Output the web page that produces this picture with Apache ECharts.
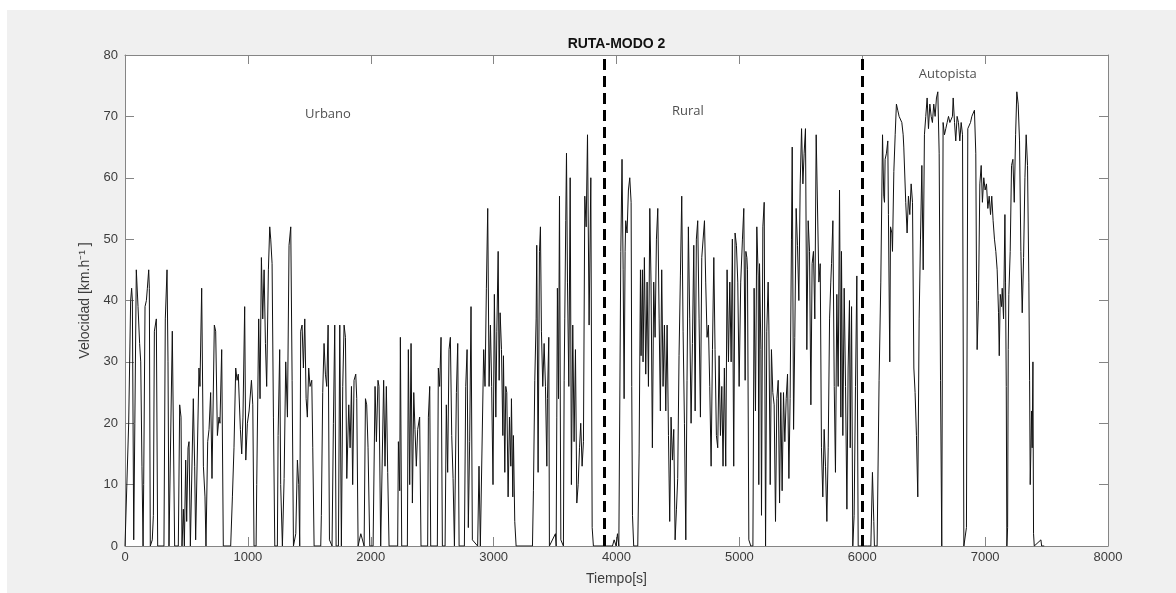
<!DOCTYPE html>
<html>
<head>
<meta charset="utf-8">
<script src="https://cdn.jsdelivr.net/npm/echarts@6/dist/echarts.min.js"></script>
<style>
  html, body { margin: 0; padding: 0; background: #ffffff; }
  #fondo { position: absolute; left: 7px; top: 10px; width: 1169px; height: 583px; background: #f0f0f0; }
  #chart { position: absolute; left: 0; top: 0; width: 1176px; height: 593px; }
</style>
</head>
<body>
<div id="fondo"></div>
<div id="chart"></div>
<script>
// tramo urbano: [tiempo s, velocidad km/h]
const urbano = [
  [0,0],[11,0],[30,20],[46,40],[54,42],[60,40],[71,1],[80,20],[92,45],[106,39],[119,33],[128,30],[138,13],[147,0],
  [152,10],[163,39],[174,40],[182,42],[193,45],[198,42],[206,0],[222,1],[231,5],[239,35],[255,37],[266,0],[317,0],
  [328,37],[342,45],[350,30],[358,0],[372,0],[385,35],[393,35],[404,0],[434,0],[445,23],[456,21],[464,0],[475,6],
  [483,0],[494,14],[502,4],[513,16],[521,17],[532,0],[545,0],[556,24],[567,13],[575,1],[591,1],[602,29],[610,26],
  [624,42],[638,13],[651,8],[659,0],[673,17],[684,19],[697,25],[708,11],[727,36],[738,35],[752,18],[765,21],[773,20],
  [787,32],[800,0],[860,0],[874,8],[887,16],[901,29],[912,27],[922,28],[939,19],[950,15],[960,21],[974,39],[983,14],
  [996,20],[1010,22],[1029,27],[1040,23],[1050,0],[1067,0],[1072,10],[1088,37],[1099,24],[1110,47],[1121,37],
  [1132,45],[1143,33],[1153,26],[1167,45],[1178,52],[1186,50],[1197,46],[1208,21],[1219,0],[1240,0],[1246,18],
  [1259,32],[1267,10],[1281,0],[1295,11],[1308,30],[1322,21],[1335,49],[1349,52],[1360,27],[1371,0],[1390,2],
  [1403,14],[1414,10],[1422,0],[1430,35],[1441,36],[1452,29],[1463,37],[1474,24],[1484,21],[1495,29],[1506,26],
  [1520,27],[1528,16],[1539,0],[1593,0],[1598,5],[1609,25],[1620,33],[1631,28],[1642,26],[1653,36],[1664,1],
  [1685,0],[1696,20],[1707,36],[1718,0],[1737,0],[1748,36],[1761,0],[1772,26],[1783,36],[1794,34],[1805,11],
  [1821,23],[1832,16],[1843,26],[1853,10],[1864,27],[1878,28],[1886,24],[1897,0],[1919,2],[1946,0],[1957,24],
  [1967,23],[1978,16],[1992,0],[2019,0],[2035,26],[2046,17],[2059,27],[2067,26],[2081,0],[2095,0],[2105,27],
  [2116,13],[2127,26],[2138,12],[2149,0],[2219,0],[2225,17],[2236,9],[2241,34],[2252,0],[2298,0],[2306,32],
  [2317,10],[2328,33],[2339,7],[2350,25],[2360,19],[2371,13],[2382,19],[2398,21],[2409,0],[2463,0],[2469,21],
  [2480,26],[2488,0],[2542,0],[2550,29],[2561,26],[2572,34],[2583,0],[2605,0],[2615,23],[2626,12],[2637,32],
  [2648,34],[2659,18],[2670,11],[2681,0],[2697,25],[2708,33],[2719,0],[2762,0],[2773,26],[2784,32],[2794,3],
  [2805,17],[2816,39],[2827,1],[2870,0],[2881,13],[2892,0],[2908,0],[2919,32],[2930,26],[2941,42],[2952,55],
  [2963,26],[2974,36],[2984,26],[2995,10],[3006,41],[3018,21],[3026,35],[3037,48],[3045,27],[3053,38],[3064,32],
  [3075,18],[3080,31],[3091,12],[3099,26],[3107,25],[3118,8],[3129,21],[3140,13],[3145,24],[3156,8],[3161,18],
  [3172,4],[3183,0],[3316,0],[3324,9],[3335,27],[3346,37],[3351,49],[3362,12],[3373,48],[3381,52],[3389,35],
  [3400,26],[3411,33],[3422,26],[3433,13],[3438,24],[3449,34],[3454,0],[3503,2],[3509,0],[3514,21],[3519,42],
  [3528,24],[3536,57],[3547,1],[3568,0],[3574,27],[3579,37],[3587,53],[3593,64],[3601,43],[3612,26],[3623,60],
  [3633,10],[3644,36],[3655,17],[3666,32],[3677,7],[3688,10],[3699,16],[3709,20],[3720,13],[3731,17],[3742,57],
  [3753,52],[3764,67],[3777,36],[3791,60],[3802,3],[3812,0],[3900,0]
];

// tramo rural
const rural = [
  [3967,0],[3981,1],[3997,0],[4008,2],[4019,0],[4035,48],[4045,63],[4054,45],[4062,24],[4070,48],[4075,53],
  [4086,51],[4097,58],[4108,60],[4119,56],[4124,26],[4130,5],[4140,0],[4173,0],[4184,15],[4195,45],[4200,31],
  [4211,45],[4216,30],[4227,47],[4238,28],[4249,43],[4260,26],[4271,55],[4281,43],[4292,16],[4303,43],[4314,34],
  [4325,50],[4336,55],[4347,37],[4357,22],[4368,45],[4379,26],[4390,36],[4401,22],[4412,36],[4423,18],[4433,4],
  [4444,21],[4455,14],[4466,19],[4477,1],[4488,6],[4498,11],[4509,31],[4520,44],[4531,57],[4542,35],[4553,20],
  [4564,1],[4574,27],[4585,52],[4596,37],[4607,20],[4618,33],[4629,49],[4640,22],[4650,50],[4661,53],[4672,37],
  [4683,21],[4694,47],[4705,47],[4716,53],[4726,43],[4737,34],[4748,36],[4759,26],[4770,13],[4781,32],[4792,47],
  [4802,32],[4813,18],[4824,16],[4835,31],[4846,18],[4857,26],[4867,13],[4878,29],[4889,13],[4900,45],[4911,30],
  [4922,43],[4933,30],[4943,50],[4954,13],[4965,51],[4976,49],[4987,43],[4998,26],[5011,43],[5025,50],[5036,55],
  [5047,27],[5053,48],[5061,47],[5066,45],[5077,1],[5093,0],[5110,0],[5120,42],[5131,22],[5142,52],[5153,44],
  [5158,10],[5164,46],[5175,32],[5180,5],[5191,52],[5202,56],[5213,0],[5223,35],[5234,43],[5240,36],[5251,10],
  [5261,32],[5272,25],[5283,23],[5294,4],[5305,24],[5316,27],[5327,7],[5337,25],[5348,9],[5359,25],[5370,17],
  [5381,24],[5392,28],[5403,11],[5413,24],[5424,50],[5430,65],[5441,19],[5451,34],[5462,55],[5473,49],[5484,40],
  [5495,59],[5506,68],[5517,59],[5527,64],[5538,68],[5549,32],[5560,53],[5571,48],[5582,23],[5592,46],[5603,48],
  [5614,37],[5625,67],[5636,67],[5647,43],[5658,46],[5668,16],[5679,8],[5690,19],[5701,13],[5712,4],[5723,16],
  [5734,37],[5744,43],[5750,46],[5761,53],[5772,26],[5782,12],[5793,41],[5804,26],[5815,58],[5826,21],[5831,48],
  [5842,18],[5853,42],[5864,26],[5875,6],[5885,29],[5896,40],[5902,16],[5913,39],[5923,0],[5934,5],[5945,26],
  [5956,44],[5967,0],[6000,0]
];

// tramo autopista
const autopista = [
  [6043,0],[6070,0],[6083,12],[6094,4],[6099,0],[6121,0],[6137,27],[6151,43],[6165,67],[6175,57],[6181,56],
  [6186,63],[6197,64],[6208,66],[6213,54],[6224,30],[6230,52],[6241,51],[6246,48],[6257,61],[6268,67],[6278,72],
  [6289,71],[6300,70],[6311,70],[6322,69],[6333,67],[6338,65],[6349,65],[6354,56],[6365,51],[6376,57],[6387,54],
  [6398,59],[6409,56],[6420,29],[6430,25],[6441,18],[6452,8],[6463,37],[6474,50],[6485,62],[6496,45],[6506,67],
  [6517,70],[6528,73],[6539,68],[6550,72],[6561,70],[6571,69],[6582,72],[6593,70],[6604,73],[6615,74],[6626,64],
  [6637,27],[6647,0],[6658,69],[6669,67],[6680,68],[6691,69],[6702,70],[6713,69],[6723,69],[6734,70],[6740,73],
  [6751,69],[6761,66],[6772,70],[6783,69],[6794,66],[6805,69],[6816,67],[6827,0],[6843,0],[6848,3],[6859,68],
  [6870,68],[6881,69],[6892,70],[6902,70],[6913,71],[6924,64],[6930,43],[6935,32],[6946,40],[6957,59],[6968,62],
  [6978,56],[6989,60],[7000,58],[7011,59],[7022,55],[7033,57],[7044,54],[7054,57],[7065,53],[7076,50],[7087,48],
  [7098,45],[7109,38],[7115,31],[7123,41],[7134,39],[7139,42],[7150,37],[7161,54],[7166,43],[7172,26],[7177,0],
  [7183,3],[7188,32],[7193,41],[7204,48],[7215,62],[7226,63],[7237,56],[7248,67],[7258,74],[7269,72],[7280,66],
  [7291,48],[7302,38],[7313,47],[7324,60],[7334,67],[7345,62],[7356,43],[7362,27],[7367,10],[7378,22],[7383,16],
  [7389,30],[7394,2],[7400,0],[7454,1],[7460,0],[7481,0]
];

const limites = [3900, 6000];
const zonas = ['Urbano', 'Rural', 'Autopista'];
const zonaT = [1652, 4581, 6696];
const zonaV = [70.4, 70.9, 76.9];

const ejeColor = '#858585';
const txtColor = '#3c3c3c';
const fuente = '"Liberation Sans", Arial, sans-serif';

const chart = echarts.init(document.getElementById('chart'));

function ejeBase(min, max, step) {
  return {
    type: 'value', min: min, max: max, interval: step,
    axisLine: { show: true, onZero: false, lineStyle: { color: ejeColor } },
    axisTick: { show: true, inside: true, length: 9, lineStyle: { color: ejeColor } },
    splitLine: { show: false }
  };
}

const option = {
  animation: false,
  title: {
    text: 'RUTA-MODO 2',
    left: 616.5,
    top: 37,
    textAlign: 'center',
    padding: 0,
    textStyle: { fontFamily: fuente, fontSize: 14, fontWeight: 'bold', color: '#111' }
  },
  grid: { left: 125, right: 68, top: 55, bottom: 47, show: true, backgroundColor: '#ffffff', borderWidth: 0 },
  xAxis: [
    Object.assign(ejeBase(0, 8000, 1000), {
      position: 'bottom',
      name: 'Tiempo[s]', nameLocation: 'middle', nameGap: 26,
      nameTextStyle: { fontFamily: fuente, fontSize: 14, color: txtColor },
      axisLabel: { fontFamily: fuente, fontSize: 13, color: txtColor, margin: 5,
        formatter: function (v) { return String(v); } }
    }),
    Object.assign(ejeBase(0, 8000, 1000), { position: 'top', axisLabel: { show: false } })
  ],
  yAxis: [
    Object.assign(ejeBase(0, 80, 10), {
      position: 'left',
      name: 'Velocidad [km.h\u207B\u00B9 ]', nameLocation: 'middle', nameGap: 17,
      nameTextStyle: { fontFamily: fuente, fontSize: 14, color: txtColor },
      axisLabel: { fontFamily: fuente, fontSize: 13, color: txtColor, margin: 7 }
    }),
    Object.assign(ejeBase(0, 80, 10), { position: 'right', axisLabel: { show: false } })
  ],
  series: [
    {
      type: 'line',
      data: urbano.concat(rural, autopista),
      showSymbol: false,
      symbol: 'none',
      sampling: 'none',
      lineStyle: { color: '#111111', width: 1 },
      markLine: {
        silent: true,
        symbol: 'none',
        label: { show: false },
        lineStyle: { color: '#000000', width: 3, type: [11, 6] },
        data: limites.map(function (t) { return { xAxis: t }; })
      },
      z: 3
    },
    {
      type: 'scatter',
      symbolSize: 0,
      data: zonas.map(function (n, i) { return [zonaT[i], zonaV[i], n]; }),
      label: {
        show: true,
        position: 'inside',
        formatter: function (p) { return p.value[2]; },
        fontFamily: '"Open Sans", sans-serif',
        fontSize: 13,
        color: '#222222'
      },
      z: 4
    }
  ]
};

chart.setOption(option);
</script>
</body>
</html>
